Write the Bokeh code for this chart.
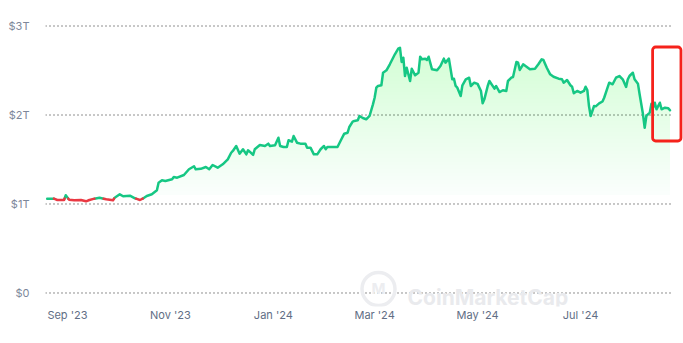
import numpy as np
from bokeh.plotting import figure
from bokeh.models import Range1d, FixedTicker, BoxAnnotation, Label
from bokeh.core.properties import value
from bokeh.embed import file_html
from bokeh.resources import INLINE

# ---- data (total market cap, trillions USD) ----
dates = [
    "2023-08-20", "2023-08-24", "2023-08-26", "2023-08-30", "2023-08-31", "2023-09-02", "2023-09-05",
    "2023-09-09", "2023-09-12", "2023-09-14", "2023-09-17", "2023-09-20", "2023-09-24", "2023-09-28",
    "2023-09-29", "2023-10-02", "2023-10-04", "2023-10-08", "2023-10-11", "2023-10-14", "2023-10-16",
    "2023-10-18", "2023-10-21", "2023-10-24", "2023-10-25", "2023-10-27", "2023-10-29", "2023-11-02",
    "2023-11-03", "2023-11-05", "2023-11-09", "2023-11-12", "2023-11-15", "2023-11-16", "2023-11-19",
    "2023-11-22", "2023-11-24", "2023-11-26", "2023-11-29", "2023-12-02", "2023-12-05", "2023-12-07",
    "2023-12-08", "2023-12-10", "2023-12-12", "2023-12-14", "2023-12-16", "2023-12-17", "2023-12-18",
    "2023-12-20", "2023-12-21", "2023-12-24", "2023-12-27", "2023-12-29", "2023-12-30", "2024-01-02",
    "2024-01-04", "2024-01-05", "2024-01-07", "2024-01-09", "2024-01-10", "2024-01-12", "2024-01-13",
    "2024-01-15", "2024-01-17", "2024-01-20", "2024-01-21", "2024-01-23", "2024-01-25", "2024-01-27",
    "2024-01-29", "2024-01-31", "2024-02-01", "2024-02-02", "2024-02-08", "2024-02-10", "2024-02-12",
    "2024-02-14", "2024-02-15", "2024-02-17", "2024-02-18", "2024-02-20", "2024-02-21", "2024-02-23",
    "2024-02-25", "2024-02-27", "2024-02-29", "2024-03-01", "2024-03-02", "2024-03-03", "2024-03-05",
    "2024-03-06", "2024-03-08", "2024-03-10", "2024-03-13", "2024-03-15", "2024-03-16", "2024-03-17",
    "2024-03-18", "2024-03-19", "2024-03-20", "2024-03-22", "2024-03-23", "2024-03-25", "2024-03-27",
    "2024-03-28", "2024-03-29", "2024-03-31", "2024-04-01", "2024-04-02", "2024-04-04", "2024-04-07",
    "2024-04-09", "2024-04-11", "2024-04-12", "2024-04-14", "2024-04-16", "2024-04-17", "2024-04-18",
    "2024-04-19", "2024-04-21", "2024-04-22", "2024-04-24", "2024-04-26", "2024-04-27", "2024-04-29",
    "2024-05-01", "2024-05-03", "2024-05-04", "2024-05-05", "2024-05-07", "2024-05-08", "2024-05-11",
    "2024-05-12", "2024-05-14", "2024-05-16", "2024-05-18", "2024-05-19", "2024-05-21", "2024-05-22",
    "2024-05-24", "2024-05-25", "2024-05-26", "2024-05-28", "2024-05-30", "2024-06-01", "2024-06-04",
    "2024-06-06", "2024-06-08", "2024-06-09", "2024-06-11", "2024-06-13", "2024-06-15", "2024-06-18",
    "2024-06-20", "2024-06-21", "2024-06-23", "2024-06-25", "2024-06-26", "2024-06-27", "2024-06-29",
    "2024-07-01", "2024-07-03", "2024-07-04", "2024-07-05", "2024-07-06", "2024-07-07", "2024-07-09",
    "2024-07-10", "2024-07-12", "2024-07-14", "2024-07-15", "2024-07-17", "2024-07-18", "2024-07-20",
    "2024-07-22", "2024-07-24", "2024-07-26", "2024-07-28", "2024-07-29", "2024-07-30", "2024-08-01",
    "2024-08-02", "2024-08-04", "2024-08-05", "2024-08-06", "2024-08-07", "2024-08-08", "2024-08-09",
    "2024-08-11", "2024-08-12", "2024-08-13", "2024-08-14", "2024-08-15", "2024-08-17", "2024-08-18",
    "2024-08-20", "2024-08-22", "2024-08-23",
]
values = [
    1.060, 1.060, 1.045, 1.045, 1.098, 1.048, 1.042,
    1.045, 1.030, 1.045, 1.060, 1.071, 1.053, 1.042,
    1.071, 1.109, 1.087, 1.093, 1.064, 1.045, 1.064,
    1.090, 1.109, 1.154, 1.239, 1.266, 1.258, 1.278,
    1.303, 1.296, 1.326, 1.390, 1.424, 1.390, 1.395,
    1.416, 1.390, 1.438, 1.408, 1.446, 1.502, 1.576,
    1.596, 1.652, 1.565, 1.615, 1.558, 1.603, 1.588,
    1.551, 1.615, 1.663, 1.652, 1.678, 1.652, 1.660,
    1.745, 1.652, 1.640, 1.640, 1.716, 1.700, 1.764,
    1.689, 1.678, 1.678, 1.633, 1.633, 1.558, 1.558,
    1.615, 1.652, 1.615, 1.640, 1.640, 1.716, 1.790,
    1.801, 1.865, 1.925, 1.933, 1.940, 1.989, 1.966,
    1.952, 1.989, 2.120, 2.194, 2.307, 2.326, 2.334,
    2.475, 2.502, 2.570, 2.682, 2.745, 2.756, 2.596,
    2.644, 2.438, 2.531, 2.382, 2.520, 2.446, 2.475,
    2.655, 2.626, 2.633, 2.618, 2.655, 2.513, 2.502,
    2.551, 2.633, 2.588, 2.633, 2.401, 2.408, 2.326,
    2.307, 2.213, 2.334, 2.401, 2.419, 2.326, 2.363,
    2.350, 2.270, 2.131, 2.176, 2.326, 2.382, 2.296,
    2.326, 2.258, 2.278, 2.270, 2.382, 2.419, 2.427,
    2.596, 2.588, 2.506, 2.570, 2.543, 2.513, 2.520,
    2.570, 2.626, 2.618, 2.531, 2.457, 2.430, 2.408,
    2.401, 2.363, 2.393, 2.334, 2.318, 2.244, 2.270,
    2.251, 2.270, 2.318, 2.281, 2.101, 1.989, 2.101,
    2.097, 2.130, 2.152, 2.194, 2.307, 2.363, 2.345,
    2.419, 2.438, 2.401, 2.315, 2.401, 2.438, 2.475,
    2.401, 2.352, 2.233, 2.120, 2.008, 1.857, 1.989,
    2.026, 2.127, 2.082, 2.138, 2.064, 2.138, 2.064,
    2.082, 2.075, 2.053,
]

y_ticks = [0, 1, 2, 3]
y_tick_labels = ["$0", "$1T", "$2T", "$3T"]
x_tick_dates = ["2023-09-01", "2023-11-01", "2024-01-01", "2024-03-01", "2024-05-01", "2024-07-01"]
x_tick_labels = ["Sep '23", "Nov '23", "Jan '24", "Mar '24", "May '24", "Jul '24"]

GREEN = "#16C784"
FILL = "#0FB866"
RED = "#EA3943"
DAY = 86400000.0


def ms(s):
    return float(np.datetime64(s, "ms").astype("int64"))


xs = np.array([ms(d) for d in dates])
ys = np.array(values, dtype=float)

x0 = ms("2023-08-19")
x1 = ms("2024-08-31")

p = figure(width=683, height=343, output_backend="svg", toolbar_location=None,
           x_axis_type="datetime",
           x_range=Range1d(x0, x1), y_range=Range1d(-0.1517, 3.1180),
           min_border_left=45, min_border_right=0, min_border_top=15, min_border_bottom=37)
p.outline_line_color = None
p.xgrid.visible = False
p.ygrid.visible = False
p.background_fill_color = "white"
p.border_fill_color = "white"

# y axis
p.yaxis.ticker = FixedTicker(ticks=y_ticks)
p.yaxis.major_label_overrides = {t: l for t, l in zip(y_ticks, y_tick_labels)}
p.yaxis.axis_line_color = None
p.yaxis.major_tick_line_color = None
p.yaxis.minor_tick_line_color = None
p.yaxis.major_tick_out = 0
p.yaxis.major_label_standoff = 16
p.yaxis.major_label_text_font = "Inter"
p.yaxis.major_label_text_font_size = "11px"
p.yaxis.major_label_text_color = "#7D879A"

# x axis
x_tick_ms = [ms(d) for d in x_tick_dates]
p.xaxis.ticker = FixedTicker(ticks=x_tick_ms)
p.xaxis.major_label_overrides = {t: l for t, l in zip(x_tick_ms, x_tick_labels)}
p.xaxis.axis_line_color = None
p.xaxis.major_tick_line_color = None
p.xaxis.minor_tick_line_color = None
p.xaxis.major_tick_out = 0
p.xaxis.major_label_standoff = 1
p.xaxis.major_label_text_font = "Inter"
p.xaxis.major_label_text_font_size = "11px"
p.xaxis.major_label_text_color = "#616E85"

# dotted gridlines
grid_end = xs[-1] + 1.8 * DAY
p.multi_line(xs=[[x0, grid_end] for _ in y_ticks], ys=[[t, t] for t in y_ticks],
             line_color="#222222", line_width=1, line_dash="1 3")

# gradient fill (stacked translucent layers)
lo, hi = 1.10, ys.max()
levels = np.linspace(lo, hi, 41)[:-1]
n = len(levels)
a = 1 - (1 - 0.17) ** (1.0 / n)
for L in levels:
    p.varea(x=xs, y1=np.minimum(ys, L), y2=ys, fill_color=FILL, fill_alpha=a)
p.varea(x=xs, y1=np.minimum(ys, lo), y2=ys, fill_color=FILL, fill_alpha=0.015)

# line: green above starting value, red below
base = ys[0]
runs = []
cur_x, cur_y = [xs[0]], [ys[0]]
cur_below = ys[0] < base
for i in range(1, len(xs)):
    below = ys[i] < base
    if below != cur_below:
        t = (base - ys[i - 1]) / (ys[i] - ys[i - 1])
        cx = xs[i - 1] + t * (xs[i] - xs[i - 1])
        cur_x.append(cx); cur_y.append(base)
        runs.append((cur_below, cur_x, cur_y))
        cur_x, cur_y = [cx], [base]
        cur_below = below
    cur_x.append(xs[i]); cur_y.append(ys[i])
runs.append((cur_below, cur_x, cur_y))

gx = [r[1] for r in runs if not r[0]]
gy = [r[2] for r in runs if not r[0]]
rx = [r[1] for r in runs if r[0]]
ry = [r[2] for r in runs if r[0]]
p.multi_line(xs=gx, ys=gy, line_color=GREEN, line_width=2.5, line_join="round", line_cap="round")
if rx:
    p.multi_line(xs=rx, ys=ry, line_color=RED, line_width=2.5, line_join="round", line_cap="round")

# watermark
p.scatter(x=[x0 + 197.3 * DAY], y=[0.045], marker="circle", size=33, fill_color=None,
          line_color="#ECEDF0", line_width=3.5)
p.text(x=[x0 + 197.3 * DAY], y=[0.045], text=["M"], text_align="center", text_baseline="middle",
       text_font=value("Inter"), text_font_size="15px", text_font_style="bold", text_color="#ECEDF0")
p.add_layout(Label(x=x0 + 214.5 * DAY, y=-0.045, text="CoinMarketCap", text_font="Inter",
                   text_font_size="21px", text_font_style="bold", text_color="#E9EAED",
                   text_baseline="alphabetic"))

# highlight box around the latest values
p.add_layout(BoxAnnotation(left=xs[-1] - 10.3 * DAY, right=xs[-1] + 6.5 * DAY, top=2.764, bottom=1.708,
                           fill_alpha=0, line_color="#F5221B", line_alpha=1.0, line_width=2.8,
                           border_radius=3))

open("out.html", "w").write(file_html(p, INLINE))
